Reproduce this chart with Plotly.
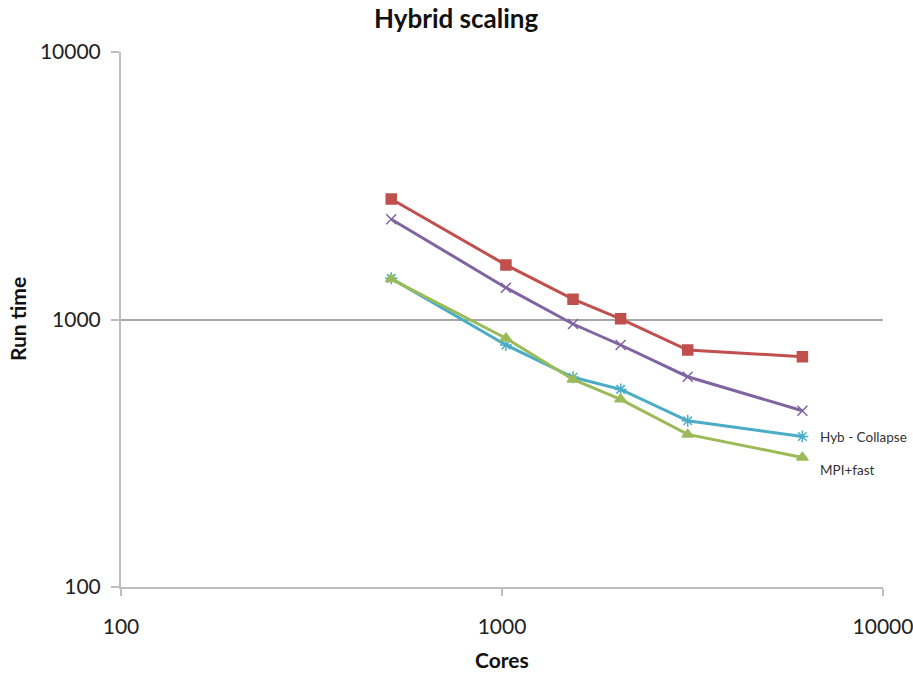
import math
import plotly.graph_objects as go

cores = [512, 1024, 1536, 2048, 3072, 6144]
series_a = [2820, 1600, 1191, 1006, 769, 726]      # red squares
series_b = [2371, 1315, 962, 803, 611, 456]        # purple x
hyb_collapse = [1425, 803, 608, 548, 418, 365]     # cyan asterisk
mpi_fast = [1416, 851, 597, 503, 372, 305]         # green triangles

names = ["Series A", "Series B", "Hyb - Collapse", "MPI+fast"]
colors = ["#C0504D", "#8064A2", "#4BACC6", "#9BBB59"]
symbols = ["square", "x-thin-open", "asterisk-open", "triangle-up"]
sizes = [10, 10, 10, 10]
tick_vals = [100, 1000, 10000]
tick_text = ["100", "1000", "10000"]

fig = go.Figure()
for name, vals, c, s, sz in zip(names, [series_a, series_b, hyb_collapse, mpi_fast], colors, symbols, sizes):
    fig.add_trace(go.Scatter(
        x=cores, y=vals, mode="lines+markers", name=name,
        line=dict(color=c, width=3),
        marker=dict(symbol=s, size=sz, color=c, line=dict(color=c, width=1.5)),
    ))

lab_font = dict(size=13.5, color="#333333", family="Lato")
fig.add_annotation(x=math.log10(cores[-1]), y=math.log10(hyb_collapse[-1]), xref="x", yref="y",
                   text="Hyb - Collapse", showarrow=False, xanchor="left",
                   xshift=16, font=lab_font)
fig.add_annotation(x=math.log10(cores[-1]), y=math.log10(mpi_fast[-1]), xref="x", yref="y",
                   text="MPI+fast", showarrow=False, xanchor="left",
                   xshift=16, yshift=-13, font=lab_font)

# titles as annotations (paper coords)
fig.add_annotation(x=0.4396, y=1.063, xref="paper", yref="paper", text="<b>Hybrid scaling</b>",
                   showarrow=False, xanchor="center", yanchor="middle",
                   font=dict(family="Lato", size=26, color="#111111"))
fig.add_annotation(x=-0.135, y=0.501, xref="paper", yref="paper", text="<b>Run time</b>",
                   showarrow=False, xanchor="center", yanchor="middle", textangle=-90,
                   font=dict(family="Lato", size=21, color="#111111"))
fig.add_annotation(x=0.5, y=-0.1364, xref="paper", yref="paper", text="<b>Cores</b>",
                   showarrow=False, xanchor="center", yanchor="middle",
                   font=dict(family="Lato", size=21, color="#111111"))

axis_font = dict(family="Lato", size=21, color="#222222")
fig.update_layout(
    width=913, height=673,
    paper_bgcolor="white", plot_bgcolor="white",
    margin=dict(l=121, r=30, t=52, b=86),
    showlegend=False,
    font=dict(family="Lato"),
)
fig.update_xaxes(
    type="log", range=[2, 4], tickvals=tick_vals, ticktext=tick_text,
    showgrid=False, showline=True, linecolor="#bdbdbd", linewidth=2,
    ticks="outside", ticklen=7, tickcolor="#bdbdbd", tickwidth=2,
    tickfont=axis_font, zeroline=False, automargin=False, ticklabelstandoff=13,
    ticklabeloverflow="allow",
)
fig.update_yaxes(
    type="log", range=[2, 4], tickvals=tick_vals, ticktext=tick_text,
    showgrid=True, gridcolor="#a6a6a6", gridwidth=1.5,
    showline=True, linecolor="#bdbdbd", linewidth=2,
    ticks="outside", ticklen=8, tickcolor="#bdbdbd", tickwidth=2,
    tickfont=axis_font, zeroline=False, automargin=False, ticklabelstandoff=6,
)

fig.write_html("out.html", config={"displayModeBar": False},
               post_script="document.body.style.margin='0';")
